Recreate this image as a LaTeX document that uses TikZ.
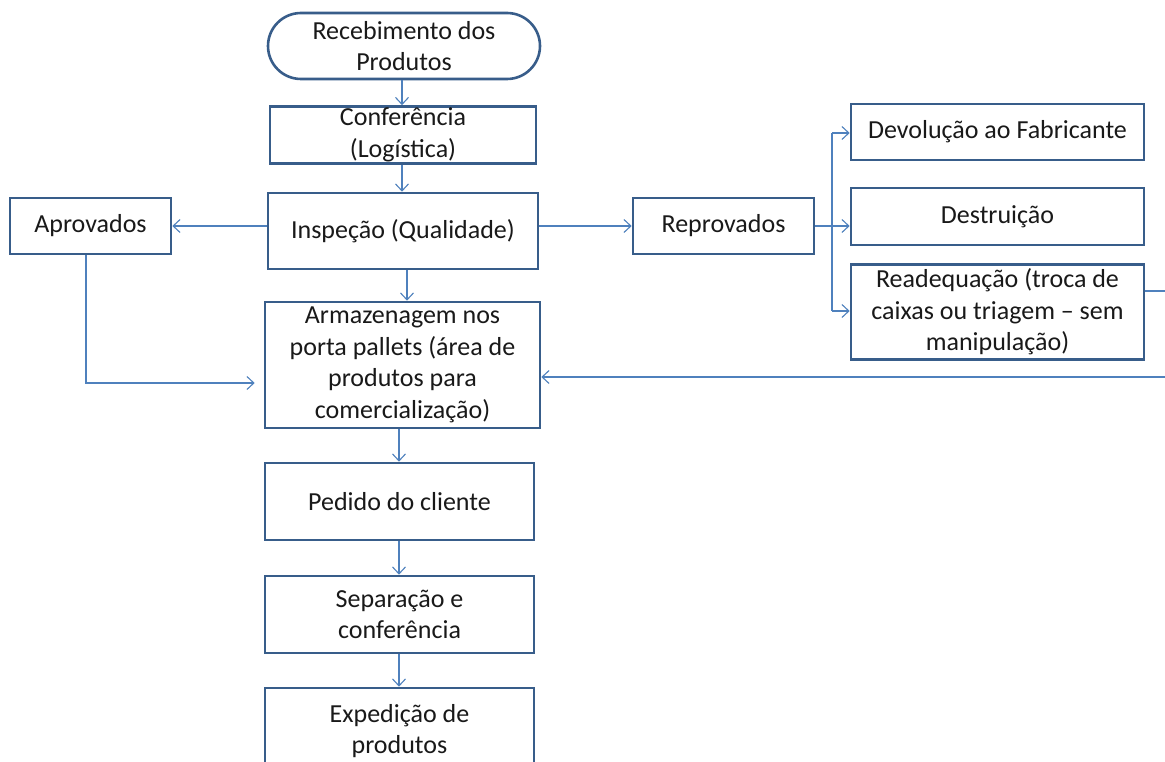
\documentclass[tikz,border=0pt]{standalone}
\usepackage{fontspec}
\setmainfont{Carlito}
\usetikzlibrary{arrows.meta,shapes.misc}
\definecolor{boxblue}{HTML}{385D8A}
\definecolor{linkblue}{HTML}{4F81BD}
\begin{document}
\begin{tikzpicture}[x=1pt,y=-1pt,
  box/.style={draw=boxblue,line width=2.6pt,fill=white,align=center,inner sep=0pt,
    font=\fontsize{26}{31.5}\selectfont,text=black!90},
  link/.style={draw=linkblue,line width=1.1pt},
  arr/.style={link,-{Straight Barb[length=7pt,width=13pt,line width=1.1pt]}}]
\useasboundingbox (0,0) rectangle (1165,762);
\node[box,shape=rounded rectangle,minimum width=272pt,minimum height=66pt] (rec) at (404,46) {Recebimento dos\\Produtos};
\node[box,minimum width=266pt,minimum height=57pt] (conf) at (403,135) {Conferência\\(Logística)};
\node[box,minimum width=270pt,minimum height=76pt] (insp) at (403,231) {Inspeção (Qualidade)};
\node[box,minimum width=161pt,minimum height=56pt] (apr) at (90.5,226) {Aprovados};
\node[box,minimum width=181pt,minimum height=56pt] (rep) at (723.5,226) {Reprovados};
\node[box,minimum width=293pt,minimum height=56pt] (dev) at (997.5,132) {Devolução ao Fabricante};
\node[box,minimum width=293pt,minimum height=57pt] (des) at (997.5,216.5) {Destruição};
\node[box,minimum width=293pt,minimum height=95pt] (rea) at (997.5,312) {Readequação (troca de\\caixas ou triagem -- sem\\manipulação)};
\node[box,minimum width=275pt,minimum height=126pt] (arm) at (402.5,365) {Armazenagem nos\\porta pallets (área de\\produtos para\\comercialização)};
\node[box,minimum width=269pt,minimum height=77pt] (ped) at (399.5,501.5) {Pedido do cliente};
\node[box,minimum width=269pt,minimum height=77pt] (sep) at (399.5,614.5) {Separação e\\conferência};
\node[box,minimum width=269pt,minimum height=100pt] (exp) at (399.5,738) {};
\node[font=\fontsize{26}{31.5}\selectfont,align=center,text=black!90,inner sep=0pt] (expt) at (399.5,731) {Expedição de\\produtos};
% main chain
\draw[arr] (rec.south -| 402,0) -- (conf.north -| 402,0);
\draw[arr] (conf.south -| 402,0) -- (insp.north -| 402,0);
\draw[arr] (insp.south -| 407,0) -- (arm.north -| 407,0);
\draw[arr] (arm.south -| 399,0) -- (ped.north -| 399,0);
\draw[arr] (ped.south -| 399,0) -- (sep.north -| 399,0);
\draw[arr] (sep.south -| 399,0) -- (exp.north -| 399,0);
% sides
\draw[arr] (insp.west |- 0,226) -- (apr.east);
\draw[arr] (insp.east |- 0,226) -- (rep.west);
\coordinate (ap) at (86,383);
\draw[arr] (apr.south -| ap) -- (ap) -- ([xshift=-9pt]arm.west |- ap);
% bus
\coordinate (bus) at (832,226);
\draw[link] (rep.east |- bus) -- (bus);
\draw[link] (bus |- 0,133) -- (bus |- 0,311);
\draw[arr] (bus |- 0,133) -- (dev.west |- 0,133);
\draw[arr] (bus) -- (des.west |- bus);
\draw[arr] (bus |- 0,311) -- (rea.west |- 0,311);
% return
\coordinate (rt) at (1180,291);
\coordinate (rb) at (1180,377);
\draw[arr] (rea.east |- rt) -- (rt) -- (rb) -- (arm.east |- rb);
\end{tikzpicture}
\end{document}
